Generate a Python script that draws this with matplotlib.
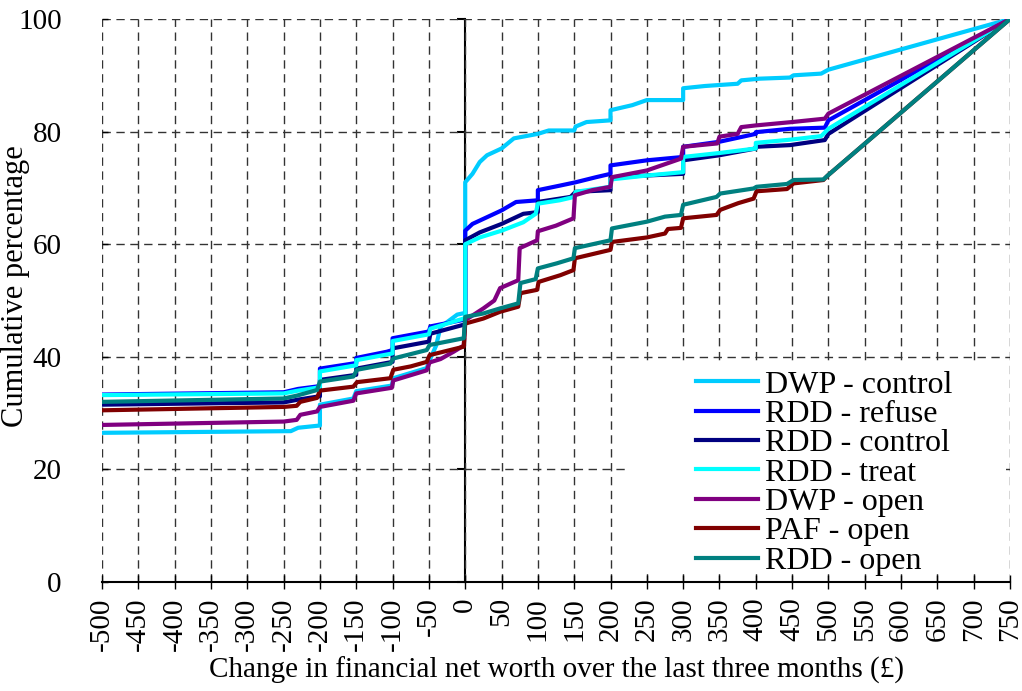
import matplotlib.pyplot as plt
from matplotlib.patches import Rectangle

plt.rcParams['font.family'] = ['Liberation Serif', 'DejaVu Serif']

# series: x = change in net worth (GBP), y = cumulative %
dwp_control_x = [-500, -240, -230, -200, -200, -154, -150, -101, -99, -53, -49, -40, -34, -11, 0, 0, 10, 20, 30, 50, 67,
                 100, 115, 150, 152, 167, 200, 200, 230, 250, 300, 300, 330, 375, 380, 405, 447, 452, 490, 500, 750]
dwp_control_y = [26.5, 26.8, 27.4, 27.8, 31.5, 32.6, 33.9, 34.9, 36.2, 38.0, 39.4, 42.0, 45.3, 47.5, 47.8, 71.0, 72.5, 74.6, 75.8, 77.0, 78.8,
                 79.6, 80.2, 80.2, 80.9, 81.7, 82.0, 83.8, 84.7, 85.6, 85.6, 87.7, 88.1, 88.5, 89.1, 89.4, 89.6, 90.0, 90.3, 91.0, 100]

rdd_refuse_x = [-500, -250, -230, -200, -200, -150, -150, -108, -100, -100, -50, -48, -5, 0, 0, 10, 30, 50, 70, 100,
                100, 130, 152, 180, 200, 200, 250, 300, 300, 350, 400, 400, 447, 495, 500, 750]
rdd_refuse_y = [33.3, 33.7, 34.3, 34.8, 37.9, 38.9, 39.8, 40.9, 41.2, 43.3, 44.5, 45.4, 46.5, 46.8, 62.4, 63.6, 64.8, 66.0, 67.5, 67.8,
                69.6, 70.4, 71.0, 71.9, 72.5, 74.0, 74.9, 75.5, 77.3, 78.2, 79.6, 79.9, 80.5, 80.7, 82.0, 100]

rdd_control_x = [-500, -250, -230, -200, -200, -150, -150, -100, -100, -50, -48, -5, 0, 0, 20, 50, 80, 100, 100, 145,
                 152, 200, 200, 250, 300, 300, 350, 400, 400, 447, 495, 500, 750]
rdd_control_y = [31.5, 31.9, 32.4, 33.0, 35.9, 36.8, 37.9, 39.1, 41.5, 42.7, 44.1, 45.6, 45.8, 60.7, 62.1, 63.6, 65.4, 65.7, 67.5, 68.4,
                 69.3, 69.6, 71.9, 72.2, 72.5, 74.9, 75.8, 77.0, 77.3, 77.6, 78.5, 79.6, 100]

rdd_treat_x = [-500, -250, -230, -200, -200, -150, -150, -100, -100, -50, -48, -2, 0, 0, 20, 50, 80, 97, 100, 130,
               150, 152, 200, 200, 250, 300, 300, 350, 400, 400, 450, 490, 500, 750]
rdd_treat_y = [33.2, 33.5, 34.0, 34.6, 37.4, 38.5, 39.4, 40.6, 42.8, 44.0, 45.0, 46.8, 47.0, 60.0, 61.2, 62.4, 63.9, 65.4, 67.2, 67.8,
               68.4, 69.3, 70.2, 71.5, 72.2, 72.8, 75.5, 76.2, 77.0, 78.0, 78.6, 79.2, 80.5, 100]

dwp_open_x = [-500, -250, -232, -227, -204, -200, -154, -150, -101, -99, -53, -49, -34, -16, -2, 0, 25, 40, 48, 73,
              75, 99, 100, 125, 149, 151, 175, 200, 202, 250, 297, 300, 347, 350, 375, 380, 400, 450, 495, 500, 750]
dwp_open_y = [27.9, 28.5, 28.8, 29.7, 30.3, 31.1, 32.2, 33.5, 34.5, 35.8, 37.6, 39.0, 39.6, 40.9, 42.0, 46.5, 48.6, 50.0, 52.2, 53.6,
              59.3, 60.7, 62.3, 63.3, 64.6, 68.7, 69.6, 70.2, 71.9, 73.1, 75.2, 77.3, 77.9, 79.1, 79.6, 80.8, 81.1, 81.7, 82.3, 83.2, 100]

paf_open_x = [-500, -250, -232, -227, -204, -200, -154, -149, -103, -99, -75, -53, -49, -2, 0, 25, 48, 73, 76, 99,
              101, 131, 149, 151, 200, 202, 250, 275, 279, 297, 300, 346, 351, 376, 397, 401, 443, 452, 493, 499, 750]
paf_open_y = [30.5, 31.1, 31.3, 32.0, 32.7, 34.0, 34.7, 35.5, 36.2, 37.7, 38.3, 39.1, 40.3, 41.8, 45.9, 46.8, 48.0, 48.9, 51.3, 51.9,
              53.3, 54.5, 55.4, 57.5, 59.0, 60.4, 61.2, 61.9, 62.7, 62.9, 64.6, 65.2, 66.1, 67.3, 68.1, 69.4, 69.8, 70.8, 71.4, 72.2, 100]

rdd_open_x = [-500, -250, -232, -204, -200, -154, -149, -103, -99, -53, -49, -2, 0, 25, 48, 73, 76, 97, 100, 126,
              149, 151, 200, 202, 250, 275, 297, 300, 346, 351, 397, 401, 443, 452, 493, 499, 750]
rdd_open_y = [32.0, 32.6, 33.1, 34.1, 35.6, 36.5, 37.7, 38.8, 39.7, 41.2, 42.1, 43.3, 47.1, 47.7, 48.6, 49.5, 53.1, 53.8, 55.7, 56.6,
              57.5, 59.3, 60.7, 62.8, 64.0, 64.9, 65.2, 67.0, 68.4, 69.0, 69.9, 70.2, 70.7, 71.4, 71.5, 72.2, 100]

series_names = ['DWP - control', 'RDD - refuse', 'RDD - control', 'RDD - treat',
                'DWP - open', 'PAF - open', 'RDD - open']
series_x = [dwp_control_x, rdd_refuse_x, rdd_control_x, rdd_treat_x, dwp_open_x, paf_open_x, rdd_open_x]
series_y = [dwp_control_y, rdd_refuse_y, rdd_control_y, rdd_treat_y, dwp_open_y, paf_open_y, rdd_open_y]
colors = ['#00CCFF', '#0000FF', '#000080', '#00FFFF', '#800080', '#800000', '#008080']

x_ticks = list(range(-500, 751, 50))
y_ticks = [0, 20, 40, 60, 80, 100]

fig = plt.figure(figsize=(10.22, 6.91), dpi=100)
ax = fig.add_axes([0.0998, 0.1577, 0.8885, 0.8148])

for xs, ys, name, c in zip(series_x, series_y, series_names, colors):
    ax.plot(xs, ys, color=c, lw=3, label=name, solid_joinstyle='round', zorder=2)

ax.set_xlim(-500, 750)
ax.set_ylim(0, 100)
ax.set_xticks(x_ticks)
ax.set_yticks(y_ticks)
ax.set_xticklabels([str(v) for v in x_ticks], rotation=90, fontsize=21)
ax.set_yticklabels([str(v) for v in y_ticks], fontsize=21)

ax.set_axisbelow(True)
ax.grid(True, color='#333333', lw=1, linestyle=(0, (6, 4)))

for s in ['top', 'right', 'left']:
    ax.spines[s].set_visible(False)
ax.spines['bottom'].set_linewidth(1.5)
ax.tick_params(axis='x', direction='inout', length=10, width=1, pad=6)
ax.tick_params(axis='y', direction='in', length=4, width=1, pad=29)

# vertical axis line crossing at x = 0
sec = ax.secondary_yaxis(0.4)
sec.set_yticks(y_ticks)
sec.set_yticklabels([])
sec.tick_params(direction='out', length=6, width=1.5)
sec.spines['left'].set_linewidth(1.5)

# white box behind the legend
ax.add_patch(Rectangle((0.581, 0.02), 0.414, 0.37, transform=ax.transAxes,
                       facecolor='white', edgecolor='none', zorder=1))

leg = ax.legend(loc='upper left', bbox_to_anchor=(0.629, 0.416), frameon=False,
                fontsize=23, handlelength=1.95, handletextpad=0.22, labelspacing=0.0,
                borderpad=0.2)
for h in leg.get_lines():
    h.set_linewidth(3)

ax.set_xlabel('Change in financial net worth over the last three months (£)', fontsize=21, labelpad=4)
ax.set_ylabel('Cumulative percentage', fontsize=22)
ax.yaxis.set_label_coords(-0.079, 0.526)

plt.savefig('out.png', dpi=100)
